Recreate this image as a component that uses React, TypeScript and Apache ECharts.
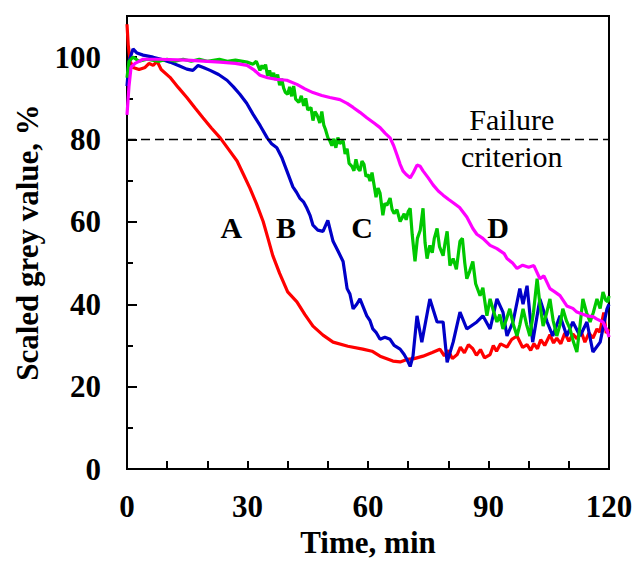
import React, { useEffect, useRef } from "react";
import * as echarts from "echarts";

const seriesA: number[][] = [
  [0, 108], [0.3, 103], [0.8, 99], [1.5, 97.5], [3, 97], [4.5, 97.5], [5.5, 98.5], [6.5, 98], [7.5, 99], [8.5, 97],
  [10.7, 95.1], [12.8, 92.6], [14.9, 90.2], [17, 87.6], [18.9, 85.3], [21, 82.8], [23.2, 80.4], [25.3, 77.6],
  [27.4, 74.8], [29, 71.5], [30.6, 68.2], [32.2, 64.5], [33.9, 60.1], [35.1, 56], [36.3, 51.8], [38, 47.5],
  [40, 43], [42.3, 40.6], [44.3, 37.5], [46.3, 34.7], [48.8, 32.5], [51.3, 30.8], [55, 29.8], [58.7, 29.1],
  [61, 28.6], [63, 27.4], [66.2, 26.2], [68, 26], [69.7, 26.6], [71.5, 26.8], [73.7, 27.4], [76, 28.3],
  [77.9, 29.1], [79, 27.5], [80, 28.8], [81, 26.8], [82.2, 27.8], [83, 29.6], [84, 28.2], [85, 30.2], [86.1, 29.2],
  [87, 27.6], [88, 29], [89, 27], [90.4, 27.8], [91.2, 30], [92, 28.6], [93, 30.4], [94.6, 29.6], [95.8, 31.5],
  [97.1, 32.3], [98.5, 29.5], [99.6, 30.2], [100.5, 28.8], [101.3, 30.4], [102.2, 29.2], [103, 31.4], [104, 30],
  [105.3, 32.6], [106.2, 30.6], [107, 31.8], [108, 30.4], [109, 33], [110, 31], [111, 32.8], [112, 31.6],
  [113, 33.6], [114, 30.8], [115, 33], [116, 31.8], [117, 34], [117.7, 33.2], [118.7, 38], [119.3, 33], [120, 34]
];

const seriesB: number[][] = [
  [0, 93], [0.5, 99], [1.5, 102], [2.5, 101], [4, 100.5], [6.5, 100], [8.5, 99.5], [10.7, 98.8], [12.8, 98],
  [14.9, 97.1], [16.4, 96.8], [17.7, 98], [19, 97.5], [20.7, 96.8], [22.8, 95.8], [24.9, 94.4], [26.5, 92.8],
  [28.1, 91], [29.8, 88.8], [31.4, 86.1], [33.2, 83.3], [34.9, 80.4], [36, 79], [37.3, 78], [38.6, 75.5],
  [39.8, 72.4], [41.3, 68.5], [42.2, 67.2], [43, 65.8], [44, 64.8], [44.8, 63.3], [45.6, 61.5], [46.3, 59.2],
  [47.5, 58], [48.8, 57.7], [50, 60.4], [51.3, 55.3], [52.5, 53], [53.8, 50.4], [54.8, 43.8], [55.5, 42.5],
  [56.3, 38.9], [57.2, 40], [58, 41.3], [59.7, 37.2], [60.5, 36], [61.2, 34], [62, 33.2], [63, 31.5],
  [64.2, 32], [65.5, 31.5], [66.5, 30], [68, 29.1], [69, 27.8], [69.7, 26.6], [70.5, 24.9], [71.2, 27.4],
  [72.2, 37.2], [73.4, 30.8], [75.4, 41.3], [77.2, 35.7], [78.7, 35.7], [79.7, 25.9], [81.2, 30.8], [82.9, 38.1],
  [84.6, 34], [87.1, 35.7], [88.6, 37.2], [90.4, 34], [92.1, 41.3], [93.6, 38.1], [94.6, 32.3], [96.1, 35.7],
  [97.8, 43.8], [98.6, 40], [99.6, 44.5], [101, 30.8], [102.8, 41.3], [104.6, 35.7], [106, 32.3], [107.8, 37.2],
  [109.5, 32.3], [111, 35.7], [112.8, 32.3], [114.5, 35.7], [116, 28.4], [117.8, 30.8], [119.5, 38.9], [120, 40]
];

const seriesC: number[][] = [
  [0, 95], [0.5, 99], [1.5, 100], [3, 99], [5, 99.5], [8, 99], [10, 99.5], [12, 99], [14, 99.5], [16, 99],
  [18, 99.5], [20, 99], [23, 99.5], [25, 99], [27, 99.3], [29.9, 98.8], [31.4, 98.3], [32.2, 99], [33.1, 96.8],
  [33.6, 98], [34, 97.2], [34.5, 98.2], [35, 95.5], [35.5, 96.8], [36, 95], [36.5, 96.2], [37, 94.5], [37.5, 95.8],
  [38, 93.2], [38.5, 94.8], [39, 92.5], [39.4, 91.5], [40, 91], [40.5, 92.8], [41, 90.5], [41.5, 93], [42, 89.8],
  [42.8, 89], [43.4, 90.6], [44, 88.2], [44.5, 90], [45, 87.2], [45.8, 87.8], [46.3, 84.6], [46.8, 86.8],
  [47.3, 86], [48, 84], [48.5, 86.8], [49, 83.5], [49.4, 82.5], [50, 80.5], [50.5, 79.7], [51, 78.5], [51.5, 80.2],
  [52, 78], [52.5, 80.5], [53, 79], [53.8, 79.7], [54.3, 76.5], [54.8, 77.8], [55.3, 74.2], [56, 73.5],
  [56.5, 72.4], [57, 75.2], [57.5, 73], [58, 72.4], [58.5, 74.8], [59, 74], [59.5, 71], [60, 71.5], [60.5, 69.9],
  [61, 72], [61.5, 69], [62, 66], [62.5, 68.2], [63, 67], [63.7, 61.6], [64.2, 64.5], [64.7, 64], [65.5, 65.8],
  [66, 63], [66.5, 62], [67.2, 63], [68, 60.1], [68.5, 61], [69, 62], [69.5, 60.5], [70, 62.5], [70.5, 63.3],
  [71, 57], [71.7, 50.4], [72.3, 56], [73, 58], [73.7, 63.3], [74.2, 55], [74.7, 51.1], [75.4, 54.3], [76, 52.5],
  [76.5, 56], [77.2, 58.4], [77.8, 54], [78.7, 51.8], [79.2, 55], [79.7, 57.7], [80.4, 49.4], [81.2, 51.1],
  [82, 48.5], [82.9, 55.3], [83.5, 56], [84.1, 50], [84.6, 46.2], [85.3, 48], [86.1, 50.4], [86.8, 45],
  [87.9, 42.1], [88.6, 44], [89.6, 37.2], [90.4, 41.3], [91.2, 38.5], [92.1, 35.7], [92.8, 37.5], [93.6, 34],
  [94.5, 36.5], [95.3, 38.9], [96.2, 35], [97.1, 32.3], [97.8, 35], [98.6, 38.9], [99.5, 35], [100.3, 32.3],
  [101.2, 38], [102.1, 46.2], [102.8, 40], [103.6, 34.7], [104.5, 38], [105.3, 41.3], [106.1, 36], [107, 32.3],
  [107.8, 35], [108.5, 38.9], [109.4, 36], [110.3, 34], [111.1, 31], [112, 28.4], [112.8, 35], [113.5, 41.3],
  [114.4, 38], [115.3, 35.7], [116.1, 38], [117, 41.3], [117.8, 39], [118.5, 43], [119.2, 41], [119.7, 40.6],
  [120, 42]
];

const seriesD: number[][] = [
  [0, 86], [0.5, 93], [1, 97.5], [2, 98.5], [4, 99.5], [8, 99.5], [14.9, 99.3], [23.2, 98.8], [27, 98.5],
  [29.9, 98], [31.5, 97], [33.1, 95.6], [35, 95], [37.3, 94.6], [39.8, 94.4], [42.3, 93.4], [44.3, 92.3],
  [46.3, 91.4], [48.5, 90.7], [50.5, 90.2], [53, 89.7], [54.8, 88.8], [56.3, 87.8], [58, 86.6], [59.7, 85.3],
  [61.5, 84], [63, 82.9], [64.3, 81.5], [65.5, 80.4], [66.4, 78.5], [67.2, 76.3], [68, 74], [68.7, 72.4],
  [69.5, 71.5], [70.5, 70.7], [71.3, 72], [72.2, 73.8], [73, 73.5], [73.7, 72.4], [75, 70.7], [76.2, 69],
  [77.5, 67.5], [78.7, 66.5], [80, 65.5], [81.3, 64.6], [82.8, 63.5], [84.6, 61.2], [86.1, 58.4], [87.1, 57],
  [88.6, 56], [90.4, 54.3], [92.1, 53.5], [93.9, 52.3], [94.6, 51.1], [96, 50], [97.1, 48.7], [98.5, 49.5],
  [100, 49], [101.3, 49.4], [102.8, 46.2], [103.8, 46.9], [105.3, 43.8], [106.5, 43], [107.8, 42.1],
  [109.5, 39.6], [111, 39], [112, 38.1], [114.5, 37.2], [116, 37], [117, 36.4], [118.5, 35.7], [119.7, 33.2],
  [120, 32]
];

const curveLabels = [
  { name: "A", value: [26, 58.7] },
  { name: "B", value: [39.6, 58.7] },
  { name: "C", value: [58.5, 58.7] },
  { name: "D", value: [92.4, 58.7] }
];

const criterionLabels = [
  { name: "Failure", value: [95.8, 84.8] },
  { name: "criterion", value: [95.8, 75.8] }
];

const failureLevel = 80;

const FONT = "Liberation Serif";

export default function App() {
  const ref = useRef<HTMLDivElement>(null);
  useEffect(() => {
    document.body.style.margin = "0";
    if (!ref.current) return;
    const chart = echarts.init(ref.current, undefined, { renderer: "svg" });
    const lineSeries = (name: string, data: number[][], color: string) => ({
      name,
      type: "line",
      data,
      showSymbol: false,
      symbol: "none",
      lineStyle: { color, width: 3.2 },
      z: 3
    });
    chart.setOption({
      animation: false,
      backgroundColor: "#fff",
      textStyle: { fontFamily: FONT },
      grid: {
        left: 127, right: 28, top: 16, bottom: 94,
        show: true, borderColor: "#000", borderWidth: 2, backgroundColor: "transparent"
      },
      xAxis: {
        type: "value", min: 0, max: 120, interval: 10,
        name: "Time, min", nameLocation: "middle", nameGap: 56,
        nameTextStyle: { fontFamily: FONT, fontWeight: "bold", fontSize: 31, color: "#000" },
        axisLine: { lineStyle: { color: "#000", width: 2 } },
        axisTick: { inside: true, length: 8, lineStyle: { color: "#000", width: 2 } },
        axisLabel: {
          margin: 22, fontFamily: FONT, fontWeight: "bold", fontSize: 31, color: "#000",
          formatter: (v: number) => (v % 30 === 0 ? String(v) : "")
        },
        splitLine: { show: false }
      },
      yAxis: [
        {
          type: "value", min: 0, max: 110, interval: 20,
          name: "Scaled grey value, %", nameLocation: "middle", nameGap: 84,
          nameTextStyle: { fontFamily: FONT, fontWeight: "bold", fontSize: 31, color: "#000" },
          axisLine: { lineStyle: { color: "#000", width: 2 } },
          axisTick: { inside: true, length: 10, lineStyle: { color: "#000", width: 2 } },
          axisLabel: {
            margin: 26, fontFamily: FONT, fontWeight: "bold", fontSize: 31, color: "#000",
            formatter: (v: number) => (v <= 100 ? String(v) : "")
          },
          splitLine: { show: false }
        },
        {
          type: "value", min: 0, max: 110, interval: 10, position: "left",
          axisLine: { show: false },
          axisTick: { inside: true, length: 6, lineStyle: { color: "#000", width: 2 } },
          axisLabel: { show: false },
          splitLine: { show: false }
        }
      ],
      series: [
        lineSeries("A", seriesA, "#ff0000"),
        lineSeries("B", seriesB, "#0000c8"),
        lineSeries("C", seriesC, "#00c800"),
        lineSeries("D", seriesD, "#ff00ff"),
        {
          type: "scatter",
          data: curveLabels,
          symbolSize: 0,
          itemStyle: { opacity: 1, color: "#000" },
          label: {
            show: true, position: "inside", formatter: "{b}", opacity: 1,
            fontFamily: FONT, fontWeight: "bold", fontSize: 30, color: "#000"
          },
          z: 5,
          markLine: {
            silent: true,
            symbol: ["none", "none"],
            label: { show: false },
            lineStyle: { color: "#000", width: 1.3, type: [9, 5] },
            data: [{ yAxis: failureLevel }]
          }
        },
        {
          type: "scatter",
          data: criterionLabels,
          symbolSize: 0,
          itemStyle: { opacity: 1, color: "#000" },
          label: {
            show: true, position: "inside", formatter: "{b}", opacity: 1,
            fontFamily: FONT, fontWeight: "normal", fontSize: 30, color: "#000"
          },
          z: 5
        }
      ]
    });
    return () => chart.dispose();
  }, []);
  return <div ref={ref} style={{ width: 637, height: 563 }} />;
}
